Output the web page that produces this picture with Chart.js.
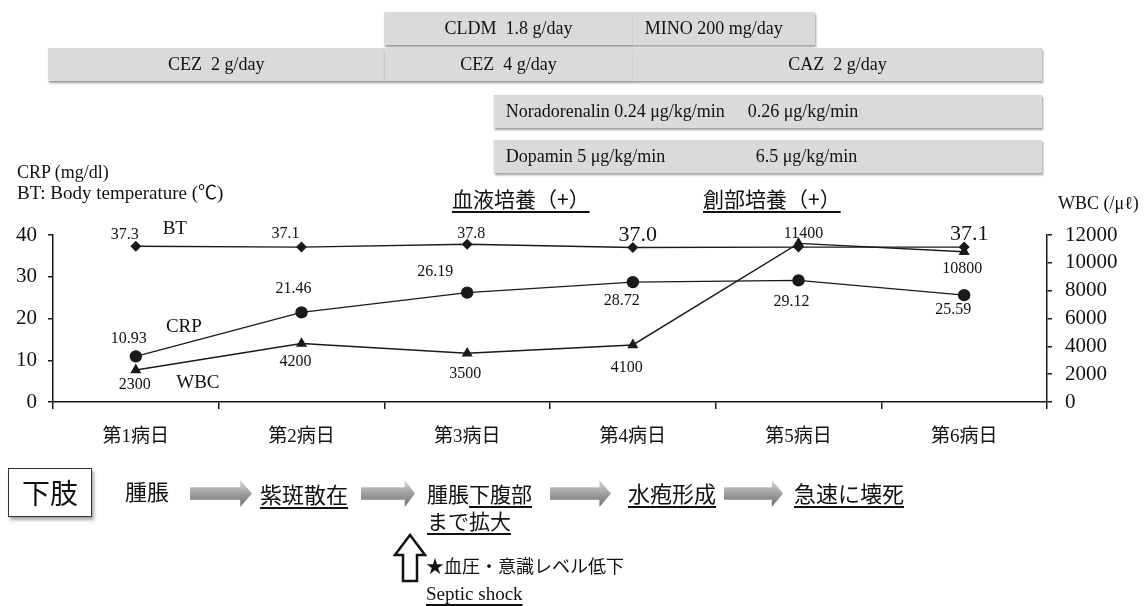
<!DOCTYPE html>
<html>
<head>
<meta charset="utf-8">
<script src="https://cdn.jsdelivr.net/npm/chart.js@4/dist/chart.umd.min.js"></script>
<style>
  body { margin: 0; background: #fff; }
  #wrap { position: relative; width: 1144px; height: 606px; overflow: hidden; }
  #chart { position: absolute; left: 0; top: 0; }
  .t { position: absolute; white-space: nowrap; color: #111; line-height: 1; }
  .serif { font-family: "Liberation Serif", "Noto Sans CJK JP", serif; }
  .jp { font-family: "Noto Sans CJK JP", sans-serif; }
  .u { text-decoration: underline; text-underline-offset: 4px; text-decoration-thickness: 1.5px; }
  .arrow {
    position: absolute; top: 480px; height: 27px;
    clip-path: polygon(0 27%, 81% 27%, 81% 0, 100% 50%, 81% 100%, 81% 73%, 0 73%);
    background: linear-gradient(#d8d8d8, #9a9a9a 55%, #6e6e6e);
  }
  .limb {
    position: absolute; left: 8px; top: 468px; width: 82px; height: 47px;
    border: 1.5px solid #333; box-shadow: 2px 3px 3px rgba(0,0,0,0.35);
    font-family: "Noto Sans CJK JP", sans-serif; font-size: 28px; line-height: 47px;
    text-align: center; color: #111; background: #fff;
  }
</style>
</head>
<body>
<div id="wrap">
  <canvas id="chart" width="1144" height="606"></canvas>

  <div class="t serif" style="left:17px;top:163px;font-size:18px;">CRP (mg/dl)</div>
  <div class="t serif" style="left:17px;top:183px;font-size:19px;">BT: Body temperature (℃)</div>
  <div class="t jp u" style="left:452px;top:188px;font-size:21px;">血液培養（+）</div>
  <div class="t jp u" style="left:703px;top:188px;font-size:21px;">創部培養（+）</div>
  <div class="t serif" style="left:1058px;top:194px;font-size:18px;">WBC (/μℓ)</div>

  <div class="limb">下肢</div>
  <div class="t jp" style="left:125px;top:479px;font-size:22px;">腫脹</div>
  <div class="arrow" style="left:190px;width:62px;"></div>
  <div class="t jp u" style="left:260px;top:482px;font-size:22px;">紫斑散在</div>
  <div class="arrow" style="left:361px;width:54px;"></div>
  <div class="t jp" style="left:427px;top:483px;font-size:21px;">腫脹<span class="u">下腹部</span></div>
  <div class="t jp u" style="left:427px;top:510px;font-size:21px;">まで拡大</div>
  <div class="arrow" style="left:550px;width:61px;"></div>
  <div class="t jp u" style="left:628px;top:481px;font-size:22px;">水疱形成</div>
  <div class="arrow" style="left:724px;width:59px;"></div>
  <div class="t jp u" style="left:794px;top:481px;font-size:22px;">急速に壊死</div>

  <svg style="position:absolute;left:393px;top:533px;" width="34" height="50">
    <polygon points="17,2 32,22 24,22 24,48 10,48 10,22 2,22" fill="#fff" stroke="#111" stroke-width="2.5"/>
  </svg>
  <div class="t jp" style="left:426px;top:556px;font-size:18px;">★血圧・意識レベル低下</div>
  <div class="t serif u" style="left:426px;top:584px;font-size:19px;">Septic shock</div>
</div>

<script>
// DATA
const days = ['第1病日', '第2病日', '第3病日', '第4病日', '第5病日', '第6病日'];
const btValues = [37.3, 37.1, 37.8, 37.0, 37.1, 37.1];
const crpValues = [10.93, 21.46, 26.19, 28.72, 29.12, 25.59];
const wbcValues = [2300, 4200, 3500, 4100, 11400, 10800];
const leftMax = 40, leftStep = 10;
const rightMax = 12000, rightStep = 2000;

// drug bars, in day index units
const drugNames = ['CEZ  2 g/day', 'CLDM  1.8 g/day', 'MINO 200 mg/day', 'CEZ  4 g/day',
  'CAZ  2 g/day', 'Noradorenalin 0.24 μg/kg/min|0.26 μg/kg/min', 'Dopamin 5 μg/kg/min|6.5 μg/kg/min'];
const drugFrom = [-0.53, 1.5, 3.0, 1.5, 3.0, 2.16, 2.16];
const drugTo = [1.5, 3.0, 4.1, 3.0, 5.47, 5.47, 5.47];
const drugRow = [1, 0, 0, 1, 1, 2, 3];

// STYLE
const ink = '#1a1a1a';
const serif = '"Liberation Serif", "Noto Sans CJK JP", serif';
const rowTop = [12, 48, 95, 140], rowH = 33;
const drugCentred = [true, true, false, true, true, false, false];
const drugSecondX = [0, 0, 0, 0, 0, 254, 262];

const labelShift = [
  [[-11, -11], [-16, -13], [4, -10], [5, -12], null, [5, -13]],
  [[-7, -18], [-8, -24], [-32, -21], [-11, 19], [-7, 21], [-11, 15]],
  [[-1, 15], [-6, 18], [-2, 21], [-6, 23], [5, -10], [-2, 17]]
];
const nameShift = [[39, -17], [48, -29], [62, 13]];
const bigBT = [3, 5];

const drugPlugin = {
  id: 'drugs',
  afterDraw(chart) {
    const ctx = chart.ctx;
    const x = chart.scales.x;
    ctx.save();
    drugNames.forEach((name, i) => {
      const x0 = x.getPixelForValue(drugFrom[i]);
      const x1 = x.getPixelForValue(drugTo[i]);
      const y0 = rowTop[drugRow[i]];
      ctx.save();
      ctx.shadowColor = 'rgba(0,0,0,0.4)';
      ctx.shadowOffsetX = 1;
      ctx.shadowOffsetY = 2;
      ctx.shadowBlur = 2;
      ctx.fillStyle = '#dadada';
      ctx.fillRect(x0, y0, x1 - x0, rowH);
      ctx.restore();
    });
    ctx.font = '18px ' + serif;
    ctx.fillStyle = '#111';
    ctx.textBaseline = 'middle';
    drugNames.forEach((name, i) => {
      const x0 = x.getPixelForValue(drugFrom[i]);
      const x1 = x.getPixelForValue(drugTo[i]);
      const yc = rowTop[drugRow[i]] + rowH / 2 + 1;
      const parts = name.split('|');
      if (drugCentred[i]) {
        ctx.textAlign = 'center';
        ctx.fillText(parts[0], (x0 + x1) / 2, yc);
      } else {
        ctx.textAlign = 'left';
        ctx.fillText(parts[0], x0 + 12, yc);
        if (parts[1]) ctx.fillText(parts[1], x0 + drugSecondX[i], yc);
      }
    });
    ctx.restore();
  }
};

const labelPlugin = {
  id: 'pointLabels',
  afterDatasetsDraw(chart) {
    const ctx = chart.ctx;
    ctx.save();
    ctx.fillStyle = '#111';
    ctx.textAlign = 'center';
    ctx.textBaseline = 'middle';
    chart.data.datasets.forEach((ds, d) => {
      const pts = chart.getDatasetMeta(d).data;
      pts.forEach((p, i) => {
        const s = labelShift[d][i];
        if (!s) return;
        const v = ds.data[i];
        let txt = d === 0 ? v.toFixed(1) : d === 1 ? v.toFixed(2) : String(v);
        ctx.font = (d === 0 && bigBT.includes(i) ? '22px ' : '16px ') + serif;
        ctx.fillText(txt, p.x + s[0], p.y + s[1]);
      });
      ctx.font = '19px ' + serif;
      ctx.fillText(ds.label, pts[0].x + nameShift[d][0], pts[0].y + nameShift[d][1]);
    });
    ctx.restore();
  }
};

const axisGrid = { drawOnChartArea: false, tickLength: 5, color: ink, lineWidth: 1.5 };
const axisBorder = { color: ink, width: 1.5 };

new Chart(document.getElementById('chart'), {
  type: 'line',
  data: {
    labels: days,
    datasets: [
      {
        label: 'BT', data: btValues, yAxisID: 'y',
        borderColor: ink, backgroundColor: ink, borderWidth: 1.4,
        pointStyle: 'rectRot', pointRadius: 4.5
      },
      {
        label: 'CRP', data: crpValues, yAxisID: 'y',
        borderColor: ink, backgroundColor: ink, borderWidth: 1.4,
        pointStyle: 'circle', pointRadius: 5.5
      },
      {
        label: 'WBC', data: wbcValues, yAxisID: 'y1',
        borderColor: ink, backgroundColor: ink, borderWidth: 1.4,
        pointStyle: 'triangle', pointRadius: 5
      }
    ]
  },
  options: {
    responsive: false,
    animation: false,
    layout: { padding: { top: 235, bottom: 154, left: 0, right: 0 } },
    plugins: { legend: { display: false }, tooltip: { enabled: false } },
    scales: {
      x: {
        offset: true,
        grid: { offset: true, drawOnChartArea: false, tickLength: 7, color: ink, lineWidth: 1.5 },
        border: axisBorder,
        ticks: { color: '#111', padding: 17, font: { family: serif, size: 19 } },
        afterFit(s) { s.height = 50; }
      },
      y: {
        position: 'left', min: 0, max: leftMax,
        grid: axisGrid, border: axisBorder,
        ticks: { stepSize: leftStep, autoSkip: false, color: '#111', padding: 11, font: { family: serif, size: 21 } },
        afterFit(s) { s.width = 53; }
      },
      y1: {
        position: 'right', min: 0, max: rightMax,
        grid: axisGrid, border: axisBorder,
        ticks: {
          stepSize: rightStep, autoSkip: false, color: '#111', padding: 13,
          font: { family: serif, size: 21 },
          callback: (v) => String(v)
        },
        afterFit(s) { s.width = 97; }
      }
    }
  },
  plugins: [drugPlugin, labelPlugin]
});
</script>
</body>
</html>
